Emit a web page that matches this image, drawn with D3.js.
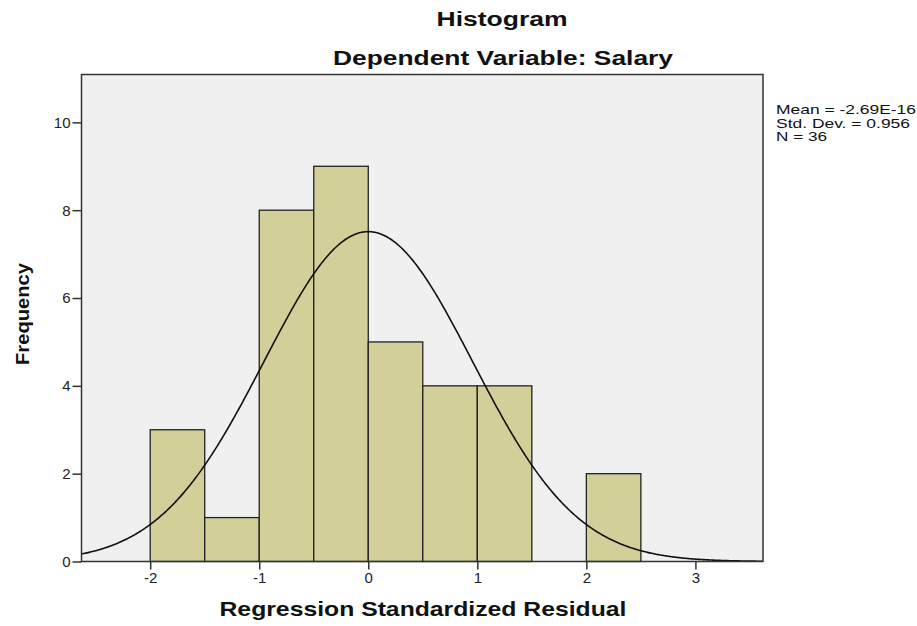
<!DOCTYPE html>
<meta charset="utf-8">
<style>
body { margin: 0; background: #fff; }
text { font-family: "Liberation Sans", Arial, sans-serif; fill: #111; }
.title { font-weight: bold; text-anchor: middle; }
.tick text { font-size: 15px; fill: #222; font-family: "Liberation Sans", Arial, sans-serif; }
.stats { font-size: 13px; }
</style>
<svg width="917" height="626"></svg>
<script src="https://d3js.org/d3.v7.min.js"></script>
<script>
// histogram bins (lower edge) and counts
var binStarts = [-2, -1.5, -1, -0.5, 0, 0.5, 1, 1.5, 2];
var counts = [3, 1, 8, 9, 5, 4, 4, 0, 2];
var binWidth = 0.5;
var xTicks = [-2, -1, 0, 1, 2, 3];
var yTicks = [0, 2, 4, 6, 8, 10];
var mean = -2.69e-16, sd = 0.956, n = 36;
var statLines = ["Mean = -2.69E-16", "Std. Dev. = 0.956", "N = 36"];

var svg = d3.select("svg"),
    mLeft = 81.5, mRight = 763, mTop = 74.5, mBottom = 561.5;

var x = d3.scaleLinear().domain([-2.63, 3.62]).range([mLeft, mRight]);
var y = d3.scaleLinear().domain([0, 11.09]).range([mBottom, mTop]);

// plot background
svg.append("rect")
    .attr("x", mLeft).attr("y", mTop)
    .attr("width", mRight - mLeft).attr("height", mBottom - mTop)
    .attr("fill", "#f0f0f0");

// bars
svg.selectAll(".bar")
  .data(binStarts.map(function(b, i) { return {x0: b, n: counts[i]}; }).filter(function(d) { return d.n > 0; }))
  .enter().append("rect")
    .attr("class", "bar")
    .attr("x", function(d) { return x(d.x0); })
    .attr("y", function(d) { return y(d.n); })
    .attr("width", function(d) { return x(d.x0 + binWidth) - x(d.x0); })
    .attr("height", function(d) { return y(0) - y(d.n); })
    .attr("fill", "#d3cf98")
    .attr("stroke", "#222")
    .attr("stroke-width", 1.3);

// fitted normal curve
var xs = d3.range(-2.63, 3.621, 0.01);
var scale = n * binWidth / (sd * Math.sqrt(2 * Math.PI));
var line = d3.line()
    .x(function(v) { return x(v); })
    .y(function(v) { return y(scale * Math.exp(-0.5 * Math.pow((v - mean) / sd, 2))); });
svg.append("path")
    .datum(xs)
    .attr("d", line)
    .attr("fill", "none")
    .attr("stroke", "#111")
    .attr("stroke-width", 1.6);

// frame
svg.append("rect")
    .attr("x", mLeft).attr("y", mTop)
    .attr("width", mRight - mLeft).attr("height", mBottom - mTop)
    .attr("fill", "none")
    .attr("stroke", "#333")
    .attr("stroke-width", 1.5);

// axes
var xAxis = svg.append("g")
    .attr("transform", "translate(0," + mBottom + ")")
    .call(d3.axisBottom(x).tickValues(xTicks).tickFormat(function(d) { return String(d); }).tickSize(8).tickPadding(3));
var yAxis = svg.append("g")
    .attr("transform", "translate(" + mLeft + ",0)")
    .call(d3.axisLeft(y).tickValues(yTicks).tickFormat(function(d) { return String(d); }).tickSize(9).tickPadding(2));
svg.selectAll(".domain").remove();
svg.selectAll(".tick line").attr("stroke", "#333").attr("stroke-width", 1.5);

// titles
function title(txt, xPos, yPos, size, len) {
  return svg.append("text").attr("class", "title")
      .attr("x", xPos).attr("y", yPos)
      .style("font-size", size + "px")
      .attr("textLength", len).attr("lengthAdjust", "spacingAndGlyphs")
      .text(txt);
}
title("Histogram", 502, 26, 20, 131);
title("Dependent Variable: Salary", 503, 65, 20, 340);
title("Regression Standardized Residual", 423, 616, 21, 407);
title("Frequency", 0, 0, 19, 102)
    .attr("transform", "translate(29,314) rotate(-90)");

// stats
var statLens = [140, 134, 51];
svg.selectAll(".stats")
  .data(statLines)
  .enter().append("text")
    .attr("class", "stats")
    .attr("x", 776)
    .attr("y", function(d, i) { return 114 + i * 13.5; })
    .attr("textLength", function(d, i) { return statLens[i]; })
    .attr("lengthAdjust", "spacingAndGlyphs")
    .text(function(d) { return d; });
</script>
